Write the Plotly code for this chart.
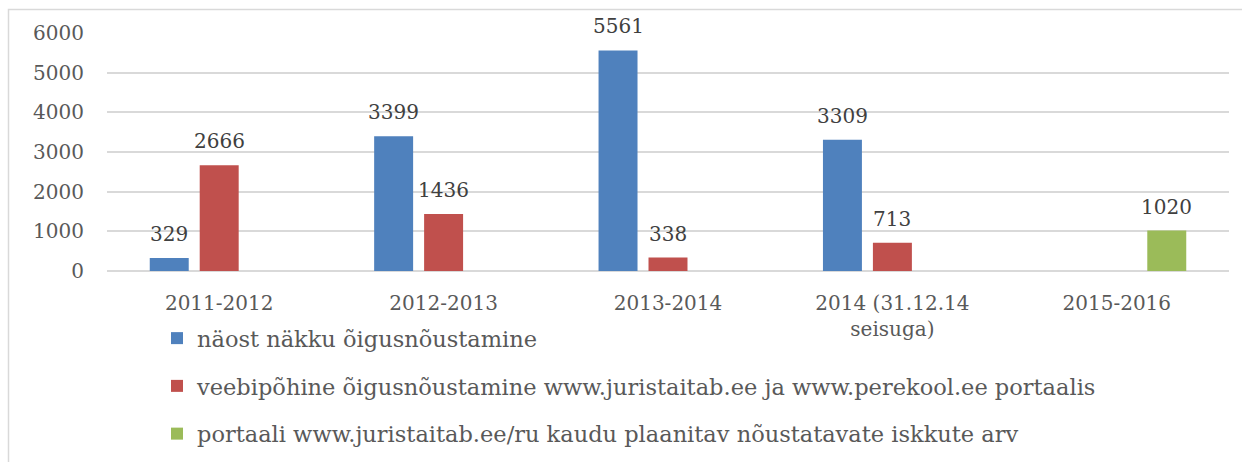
import plotly.graph_objects as go

categories = ["2011-2012", "2012-2013", "2013-2014", "2014 (31.12.14<br>seisuga)", "2015-2016"]
series_names = [
    "näost näkku õigusnõustamine",
    "veebipõhine õigusnõustamine www.juristaitab.ee ja www.perekool.ee portaalis",
    "portaali www.juristaitab.ee/ru kaudu plaanitav nõustatavate iskkute arv",
]
face_to_face = [329, 3399, 5561, 3309, None]
web_based = [2666, 1436, 338, 713, None]
planned_ru = [None, None, None, None, 1020]
y_ticks = [0, 1000, 2000, 3000, 4000, 5000, 6000]

colors = ["#4F81BD", "#C0504D", "#9BBB59"]
num_font = dict(family="DejaVu Serif", size=20, color="#404040")
tick_font = dict(family="DejaVu Serif", size=20, color="#595959")

W, H = 1242, 462
L, R, T, B = 107, 13, 33, 191
pw, ph = W - L - R, H - T - B

def px_x(p):
    return (p - L) / pw

def px_y(p):
    return (H - B - p) / ph

all_series = [face_to_face, web_based, planned_ru]
slot_px = 50  # pixel distance between bars within a group

fig = go.Figure()
annotations = []
for i, (name, vals) in enumerate(zip(series_names, all_series)):
    fig.add_trace(go.Bar(
        x=categories, y=vals, name=name,
        marker=dict(color=colors[i], line=dict(width=0)),
        legendgroup=f"g{i}",
    ))
    for cat, v in zip(categories, vals):
        if v is None:
            continue
        annotations.append(dict(
            x=cat, y=v, xref="x", yref="y", text=str(v), showarrow=False,
            xanchor="center", yanchor="bottom", xshift=(i - 1) * slot_px, yshift=10,
            font=num_font,
        ))

fig.update_layout(
    width=W, height=H,
    margin=dict(l=L, r=R, t=T, b=B, autoexpand=False),
    paper_bgcolor="white", plot_bgcolor="white",
    barmode="group", bargap=0.332, bargroupgap=0.22,
    showlegend=True,
    legend=dict(
        orientation="v", x=px_x(157), y=px_y(317), xanchor="left", yanchor="top",
        font=dict(family="DejaVu Serif", size=22.5, color="#595959"),
        tracegroupgap=15.5, itemwidth=30, bgcolor="rgba(0,0,0,0)",
    ),
    xaxis=dict(
        tickfont=tick_font, showgrid=False, showline=False, ticks="",
        ticklabelstandoff=18,
    ),
    yaxis=dict(
        range=[0, 6000], tickvals=y_ticks, tickfont=tick_font,
        showgrid=True, gridcolor="#d9d9d9", gridwidth=1.5,
        zeroline=True, zerolinecolor="#d9d9d9", zerolinewidth=1.5,
        showline=False, ticks="", ticklabelstandoff=22,
    ),
    annotations=annotations,
    shapes=[dict(
        type="rect", xref="paper", yref="paper",
        x0=px_x(8.5), x1=px_x(1250), y0=px_y(480), y1=px_y(9.5),
        line=dict(color="#d9d9d9", width=1.5), fillcolor="rgba(0,0,0,0)",
        layer="below",
    )],
)

fig.write_html("out.html")
